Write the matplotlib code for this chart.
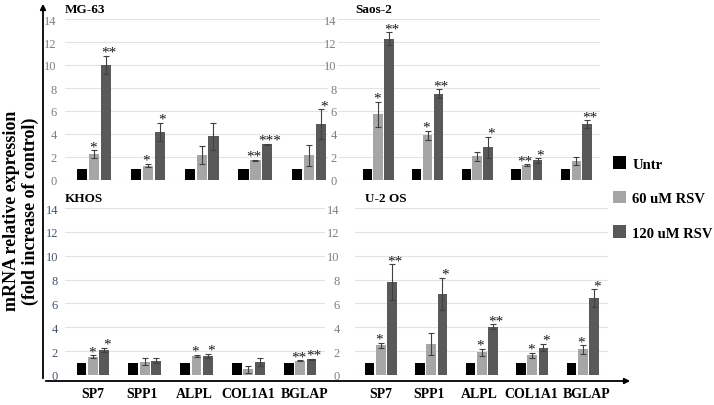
import matplotlib.pyplot as plt
from matplotlib.patches import FancyArrowPatch, Patch
import numpy as np

plt.rcParams['font.family'] = ['Liberation Serif', 'DejaVu Serif']

genes = ['SP7', 'SPP1', 'ALPL', 'COL1A1', 'BGLAP']
series = ['Untr', '60 uM RSV', '120 uM RSV']
colors = ['#000000', '#a6a6a6', '#595959']

untr = [1, 1, 1, 1, 1]

mg63_60 = [2.25, 1.25, 2.2, 1.7, 2.15]
mg63_60_err = [0.35, 0.15, 0.8, 0.08, 0.9]
mg63_120 = [10.0, 4.2, 3.8, 3.1, 4.85]
mg63_120_err = [0.8, 0.8, 1.2, 0.05, 1.3]
mg63_60_sig = ['*', '*', '', '**', '']
mg63_120_sig = ['**', '*', '', '***', '*']

saos_60 = [5.7, 3.9, 2.05, 1.3, 1.62]
saos_60_err = [1.1, 0.4, 0.4, 0.05, 0.35]
saos_120 = [12.3, 7.5, 2.85, 1.7, 4.87]
saos_120_err = [0.55, 0.4, 0.9, 0.2, 0.33]
saos_60_sig = ['*', '*', '', '**', '']
saos_120_sig = ['**', '**', '*', '*', '**']

khos_60 = [1.52, 1.1, 1.6, 0.48, 1.2]
khos_60_err = [0.12, 0.3, 0.1, 0.3, 0.03]
khos_120 = [2.1, 1.2, 1.6, 1.1, 1.32]
khos_120_err = [0.2, 0.2, 0.2, 0.35, 0.03]
khos_60_sig = ['*', '', '*', '', '**']
khos_120_sig = ['*', '', '*', '', '**']

u2os_60 = [2.5, 2.6, 1.9, 1.65, 2.15]
u2os_60_err = [0.2, 0.95, 0.3, 0.2, 0.35]
u2os_120 = [7.8, 6.8, 4.05, 2.3, 6.45]
u2os_120_err = [1.5, 1.35, 0.2, 0.3, 0.75]
u2os_60_sig = ['*', '', '*', '*', '*']
u2os_120_sig = ['**', '*', '**', '*', '*']

W, H = 714, 406
fig = plt.figure(figsize=(W / 100, H / 100), dpi=100)


def px_axes(x0, x1, y0, y1):
    return fig.add_axes([x0 / W, 1 - y1 / H, (x1 - x0) / W, (y1 - y0) / H])


panels = [
    # title, v60, e60, v120, e120, s60, s120, axes px box, xlim, tick color, tick pad, title x
    ('MG-63', mg63_60, mg63_60_err, mg63_120, mg63_120_err, mg63_60_sig, mg63_120_sig,
     (65, 328, 20, 181), (-0.54, 4.35), '#7f7f7f', 6, 0.0),
    ('Saos-2', saos_60, saos_60_err, saos_120, saos_120_err, saos_60_sig, saos_120_sig,
     (338, 600, 20, 181), (-0.81, 4.48), '#7f7f7f', 1, 0.065),
    ('KHOS', khos_60, khos_60_err, khos_120, khos_120_err, khos_60_sig, khos_120_sig,
     (65, 325, 209, 376), (-0.54, 4.48), '#44546a', 5, 0.0),
    ('U-2 OS', u2os_60, u2os_60_err, u2os_120, u2os_120_err, u2os_60_sig, u2os_120_sig,
     (355, 608, 209, 376), (-0.51, 4.5), '#7f7f7f', 11, 0.04),
]

x = np.arange(len(genes))
off = 0.22
bw = 0.19
label_shift = [0, -0.05, -0.05, -0.01, 0.08]
ekw = dict(ecolor='#404040', elinewidth=0.8, capthick=0.8)

for i, (title, v60, e60, v120, e120, s60, s120, box, xl, tc, pad, tx) in enumerate(panels):
    ax = px_axes(*box)
    ax.bar(x - off, untr, bw, color=colors[0], zorder=2)
    ax.bar(x, v60, bw, color=colors[1], yerr=e60, capsize=2, error_kw=ekw, zorder=2)
    ax.bar(x + off, v120, bw, color=colors[2], yerr=e120, capsize=2, error_kw=ekw, zorder=2)
    for xs, vals, errs, sigs, dx in [(x, v60, e60, s60, -1), (x + off, v120, e120, s120, 2)]:
        for xi, v, e, s in zip(xs, vals, errs, sigs):
            if s:
                ax.annotate(s, (xi, v + e), xytext=(dx, 0), textcoords='offset points',
                            ha='center', va='baseline', fontsize=11, color='#1a1a1a')
    ax.set_ylim(0, 14)
    ax.set_xlim(*xl)
    ax.set_yticks(range(0, 15, 2))
    ax.grid(axis='y', color='#e3e3e3', linewidth=0.8, zorder=0)
    for sp in ax.spines.values():
        sp.set_visible(False)
    ax.tick_params(axis='y', length=0, labelsize=9, labelcolor=tc, pad=pad)
    ax.tick_params(axis='x', length=0)
    if i >= 2:
        ax.set_xticks(x + np.array(label_shift))
        ax.set_xticklabels(genes, fontsize=10, fontweight='bold')
        ax.tick_params(axis='x', pad=9)
    else:
        ax.set_xticks([])
    ax.annotate(title, (tx, 1.0), xycoords='axes fraction', xytext=(0, 7.5),
                textcoords='offset points', fontsize=9.5, fontweight='bold',
                ha='left', va='center')

# axis arrows
fig.add_artist(FancyArrowPatch((43 / W, 1 - 382 / H), (43 / W, 1 - 2 / H),
                               transform=fig.transFigure, arrowstyle='-|>',
                               mutation_scale=8, lw=1.3, color='black'))
fig.add_artist(FancyArrowPatch((43 / W, 1 - 382 / H), (633 / W, 1 - 382 / H),
                               transform=fig.transFigure, arrowstyle='-|>',
                               mutation_scale=8, lw=1.3, color='black'))

fig.text(21 / W, 1 - 211 / H, 'mRNA relative expression\n(fold increase of control)',
         rotation=90, ha='center', va='center', fontsize=13, fontweight='bold',
         linespacing=1.1)

handles = [Patch(facecolor=c, edgecolor='none') for c in colors]
fig.legend(handles, series, loc='center left', bbox_to_anchor=(600 / W, 1 - 199 / H),
           frameon=False, labelspacing=1.4, handlelength=0.9,
           handleheight=0.9, handletextpad=0.4, prop={'weight': 'bold', 'size': 10.5})

fig.savefig('out.png', dpi=100)
